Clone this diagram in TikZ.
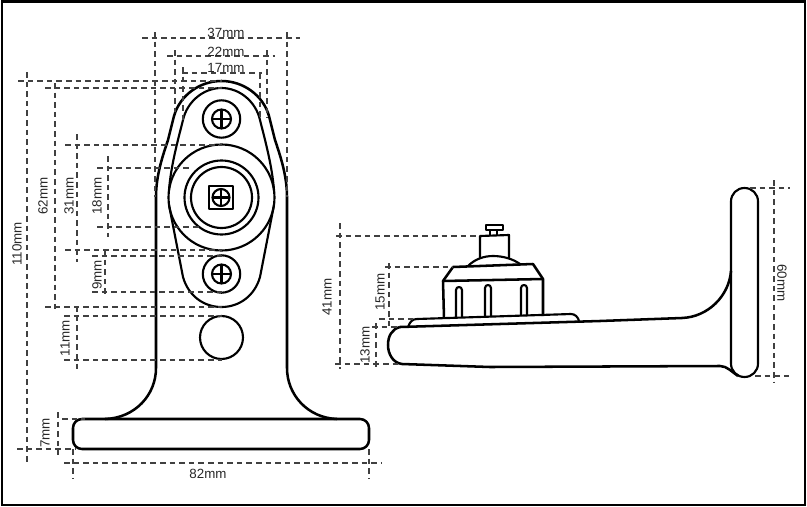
\documentclass[tikz,border=0pt]{standalone}
\usepackage{fontspec}
\setmainfont{Liberation Sans}
\usepackage{xcolor}
\usepackage{tikz}

\begin{document}
\begin{tikzpicture}[
    x=0.75pt, y=-0.75pt,
    part/.style={draw=black, line width=1.9pt, line join=round},
    thinpart/.style={draw=black, line width=1.6pt, line join=round},
    dim/.style={draw=black!75, line width=0.8pt, dash pattern=on 4.2pt off 3pt},
    dimlabel/.style={font=\fontsize{10}{12}\selectfont, text=black!85, inner sep=0pt},
    vlabel/.style={dimlabel, rotate=90},
    rlabel/.style={dimlabel, rotate=-90}
]
\useasboundingbox (0,0) rectangle (807,507);

% Frame
\draw[line width=1.7pt] (2,1.5) rectangle (805,505);

% Front view, outline
\draw[part] (105,419) .. controls (135,418) and (156,395) .. (156,368) -- (156,197)
    .. controls (156,175) and (163,155) .. (168,140) -- (174,116)
    .. controls (180,95) and (200,81) .. (221.5,81)
    .. controls (243,81) and (263,95) .. (269,116) -- (275,140)
    .. controls (280,155) and (287,175) .. (287,197) -- (287,368)
    .. controls (287,395) and (308,418) .. (337,419);
\draw[part] (73,419) ++(0,0) [rounded corners=6.75pt] rectangle (369,449);

% Front view, flange
\draw[thinpart] (169,190) .. controls (171,165) and (178,140) .. (183,120)
    .. controls (187,102) and (203,88) .. (221.5,88)
    .. controls (240,88) and (256,102) .. (260,120)
    .. controls (265,140) and (272,165) .. (274,190);
\draw[thinpart] (169,205) -- (183,277)
    .. controls (188,295) and (203,307) .. (221.5,307)
    .. controls (240,307) and (255,295) .. (260,277) -- (274,205);

% Front view, ball and rings
\draw[thinpart] (221.5,197.5) circle[radius=53];
\draw[thinpart] (221.5,197.5) circle[radius=37];
\draw[thinpart] (221.5,197.5) circle[radius=30.5];
\draw[thinpart] (209,186) rectangle (233,209);
\draw[thinpart] (221,197.5) circle[radius=8.5];
\draw[thinpart] (212.5,197.5) -- (229.5,197.5);
\draw[thinpart] (221,189) -- (221,206);

% Front view, screws and hole
\foreach \sy in {119,274} {
    \draw[thinpart] (221.5,\sy) circle[radius=18.7];
    \draw[thinpart] (221.5,\sy) circle[radius=9.5];
    \draw[thinpart] (212,\sy) -- (231,\sy);
    \draw[thinpart] (221.5,\sy-9.5) -- (221.5,\sy+9.5);
}
\draw[thinpart] (221.5,337.5) circle[radius=21.5];

% Front view, widths
\draw[dim] (142,38) -- (300,38);
\draw[dim] (155,32) -- (155,197);
\draw[dim] (287,32) -- (287,197);
\draw[dim] (167,56) -- (275,56);
\draw[dim] (175,50) -- (175,112);
\draw[dim] (267,50) -- (267,118);
\draw[dim] (182,73) -- (262,73);
\draw[dim] (183,67) -- (183,120);
\draw[dim] (260,73) -- (260,120);
\node[dimlabel] (w37) at (226,33) {37mm};
\node[dimlabel] (w22) at (226,52) {22mm};
\node[dimlabel] (w17) at (226,68) {17mm};

% Front view, heights
\draw[dim] (18,81) -- (222,81);
\draw[dim] (45,88) -- (222,88);
\draw[dim] (65,145) -- (222,145);
\draw[dim] (97,168) -- (192,168);
\draw[dim] (97,227) -- (202,227);
\draw[dim] (65,250) -- (222,250);
\draw[dim] (92,256) -- (222,256);
\draw[dim] (92,292) -- (222,292);
\draw[dim] (45,307) -- (222,307);
\draw[dim] (64,316) -- (222,316);
\draw[dim] (64,360) -- (222,360);
\draw[dim] (62,419) -- (85,419);
\draw[dim] (17,449) -- (75,449);
\draw[dim] (27,72) -- (27,464);
\draw[dim] (55,83) -- (55,313);
\draw[dim] (77,134) -- (77,262);
\draw[dim] (108,156) -- (108,237);
\draw[dim] (105,250) -- (105,297);
\draw[dim] (77,306) -- (77,370);
\draw[dim] (58,412) -- (58,455);
\node[vlabel] (h110) at (17,244) {110mm};
\node[vlabel] (h62) at (43,196) {62mm};
\node[vlabel] (h31) at (69,196) {31mm};
\node[vlabel] (h18) at (97,196) {18mm};
\node[vlabel] (h9) at (97,275) {9mm};
\node[vlabel] (h11) at (65,338) {11mm};
\node[vlabel] (h7) at (45,433) {7mm};

% Front view, base width
\draw[dim] (64,463) -- (382,463);
\draw[dim] (73,449) -- (73,478);
\draw[dim] (369,449) -- (369,478);
\node[dimlabel] (w82) at (208,474) {82mm};

% Side view, arm and plate
\draw[part] (400,327) .. controls (392,329) and (388,336) .. (388,345)
    .. controls (388,354) and (393,363) .. (402,364)
    -- (490,367) -- (720,366) .. controls (727,366) and (732,372) .. (738,376);
\draw[part] (400,327) -- (600,321) -- (682,318)
    .. controls (708,317) and (729,296) .. (731,271);
\draw[thinpart, rounded corners=10pt] (731,188) rectangle (758,377);

% Side view, flange on the arm
\draw[thinpart] (408,327) .. controls (410,322) and (412,319) .. (417,319)
    -- (571,314) .. controls (575,314) and (578,317) .. (579,321);

% Side view, housing
\draw[part] (444,318) -- (443,281) -- (453,267) -- (533,264) -- (543,279) -- (543,316);
\draw[part] (443,281) -- (543,279);
\draw[thinpart] (468,266) .. controls (475,259) and (484,256) .. (493,256)
    .. controls (503,256) and (513,259) .. (520,264);
\foreach \sx/\sb/\st in {456/317/287,485/317/285,521/316/285} {
    \draw[thinpart] (\sx,\sb) -- (\sx,\st+3) .. controls (\sx,\st-1) and (\sx+6,\st-1) .. (\sx+6,\st+3) -- (\sx+6,\sb);
}

% Side view, post and screw
\draw[thinpart] (480,258) -- (480,236) -- (509,235) -- (509,258);
\draw[thinpart] (490,235) -- (490,230);
\draw[thinpart] (497,235) -- (497,230);
\draw[thinpart] (486,225) rectangle (503,230);

% Side view, dimensions
\draw[dim] (336,236) -- (480,236);
\draw[dim] (335,364) -- (402,364);
\draw[dim] (340,223) -- (340,369);
\draw[dim] (385,267) -- (453,267);
\draw[dim] (379,319) -- (415,319);
\draw[dim] (389,263) -- (389,327);
\draw[dim] (372,327) -- (400,327);
\draw[dim] (376,323) -- (376,367);
\draw[dim] (750,188) -- (790,188);
\draw[dim] (755,376) -- (790,376);
\draw[dim] (774,180) -- (774,383);
\node[vlabel] (s41) at (327,297) {41mm};
\node[vlabel] (s15) at (380,292) {15mm};
\node[vlabel] (s13) at (365,345) {13mm};
\node[rlabel] (s60) at (782,283) {60mm};

\end{tikzpicture}
\end{document}
